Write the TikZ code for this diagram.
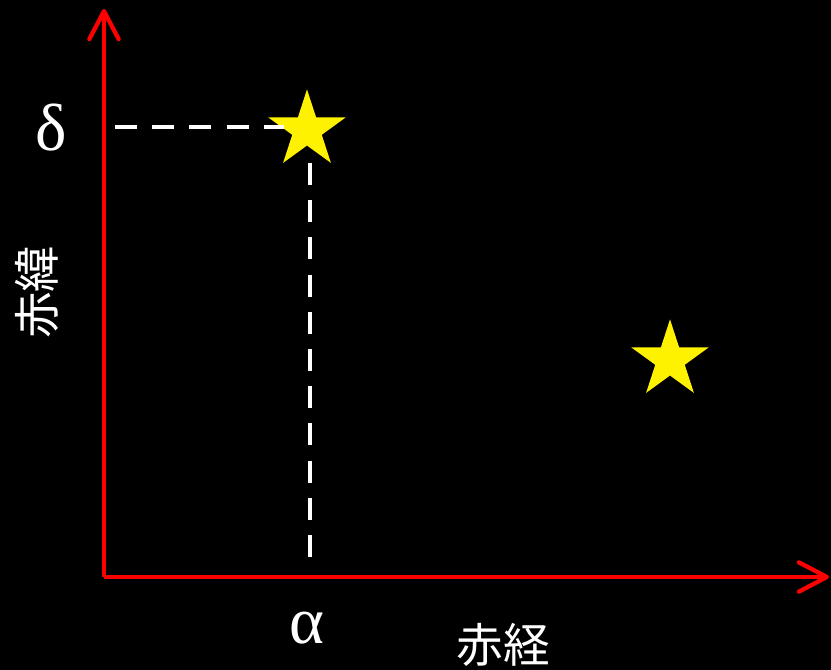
\documentclass[tikz,border=0pt]{standalone}
\usepackage{fontspec}
\setmainfont{Liberation Serif}
\newfontfamily\cjk{Noto Sans CJK JP}
\usetikzlibrary{arrows.meta,shapes.geometric,positioning}

\begin{document}
\begin{tikzpicture}[
  x=0.75pt, y=-0.75pt,
  axis/.style={draw=red, line width=3.2pt,
    -{Straight Barb[length=21pt, width=22pt, line cap=round, line join=round]}},
  guide/.style={draw=white, line width=3.2pt, dash pattern=on 16.5pt off 11.4pt},
  starnode/.style={star, star points=5, star point ratio=2.618,
    fill=yellow, draw=none, minimum size=61pt, inner sep=0pt},
  greek/.style={text=white, font=\fontsize{50}{52}\selectfont},
  kanji/.style={text=white, font=\cjk\fontsize{35}{40}\selectfont}
]
% background
\fill[black] (0,0) rectangle (831,670);
\useasboundingbox (0,0) rectangle (831,670);

% axes
\coordinate (origin) at (104,577);
\coordinate (ytip) at (104,9);
\coordinate (xtip) at (829,577);
\draw[axis] (origin) -- (ytip);
\draw[axis] (origin) -- (xtip);

% stars
\node[starnode] (star1) at (307,130) {};
\node[starnode] (star2) at (670,360) {};

% guide lines
\coordinate (hstart) at (115,127);
\coordinate (hend) at (284,127);
\coordinate (vstart) at (310,163);
\coordinate (vend) at (310,557);
\draw[guide] (hstart) -- (hend);
\draw[guide] (vstart) -- (vend);

% labels
\node[greek] (delta) at (51,128) {δ};
\node[greek] (alpha) at (307,628) {α};
\node[kanji] (ra) at (503,645) {赤経};
\node[kanji, rotate=90] (dec) at (37,292) {赤緯};
\end{tikzpicture}
\end{document}
